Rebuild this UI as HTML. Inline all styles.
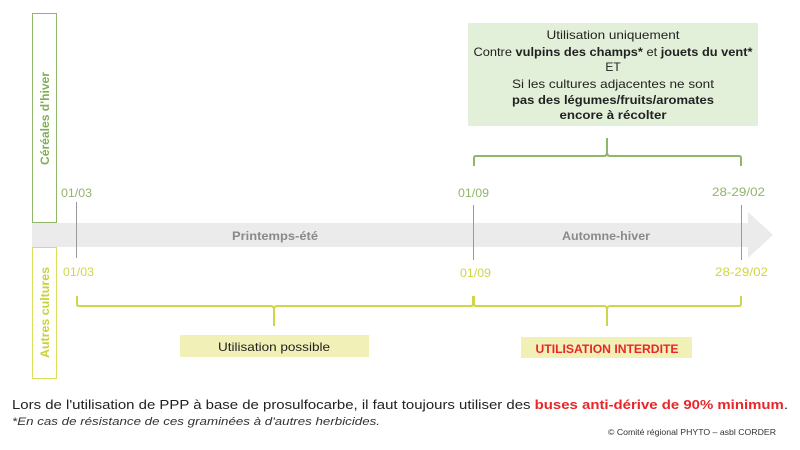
<!DOCTYPE html>
<html><head><meta charset="utf-8"><style>
html,body{margin:0;padding:0;background:#fff}
svg{display:block}
text{font-family:"Liberation Sans",sans-serif}
</style></head><body>
<svg width="800" height="450" viewBox="0 0 800 450" xmlns="http://www.w3.org/2000/svg">
<rect width="800" height="450" fill="#fff"/>
<!-- side boxes -->
<rect x="32.5" y="13.5" width="24" height="209" fill="#fff" stroke="#8fb66a" stroke-width="1"/>
<text transform="translate(49,165) rotate(-90)" font-size="12" font-weight="bold" fill="#7fae55" textLength="93" lengthAdjust="spacingAndGlyphs">Céréales d'hiver</text>
<rect x="32.5" y="247.5" width="24" height="131" fill="#fff" stroke="#d9df5a" stroke-width="1"/>
<text transform="translate(49,358) rotate(-90)" font-size="12" font-weight="bold" fill="#c9d235" textLength="91" lengthAdjust="spacingAndGlyphs">Autres cultures</text>
<!-- arrow band -->
<polygon points="32,223 748,223 748,212 773,235 748,258 748,247 32,247" fill="#ebebeb"/>
<text x="232" y="240" font-size="12" font-weight="bold" fill="#8a8a8a" textLength="86" lengthAdjust="spacingAndGlyphs">Printemps-été</text>
<text x="562" y="240" font-size="12" font-weight="bold" fill="#8a8a8a" textLength="88" lengthAdjust="spacingAndGlyphs">Automne-hiver</text>
<!-- vertical date lines -->
<line x1="76.5" y1="202" x2="76.5" y2="258" stroke="#999" stroke-width="1"/>
<line x1="473.5" y1="205" x2="473.5" y2="260" stroke="#999" stroke-width="1"/>
<line x1="741.5" y1="205" x2="741.5" y2="260" stroke="#999" stroke-width="1"/>
<!-- dates -->
<g font-size="12" fill="#8fb66a">
<text x="61" y="197" textLength="31" lengthAdjust="spacingAndGlyphs">01/03</text>
<text x="458" y="197" textLength="31" lengthAdjust="spacingAndGlyphs">01/09</text>
<text x="712" y="196" textLength="53" lengthAdjust="spacingAndGlyphs">28-29/02</text>
</g>
<g font-size="12" fill="#cfd64a">
<text x="63" y="276" textLength="31" lengthAdjust="spacingAndGlyphs">01/03</text>
<text x="460" y="277" textLength="31" lengthAdjust="spacingAndGlyphs">01/09</text>
<text x="715" y="276" textLength="53" lengthAdjust="spacingAndGlyphs">28-29/02</text>
</g>
<!-- green box -->
<rect x="468" y="23" width="290" height="103" fill="#e2efd9"/>
<g font-size="12" fill="#222" text-anchor="middle">
<text x="613" y="39" textLength="133" lengthAdjust="spacingAndGlyphs">Utilisation uniquement</text>
<text x="613" y="56" textLength="279" lengthAdjust="spacingAndGlyphs">Contre <tspan font-weight="bold">vulpins des champs*</tspan> et <tspan font-weight="bold">jouets du vent*</tspan></text>
<text x="613" y="71">ET</text>
<text x="613" y="88" textLength="202" lengthAdjust="spacingAndGlyphs">Si les cultures adjacentes ne sont</text>
<text x="613" y="104" font-weight="bold" textLength="202" lengthAdjust="spacingAndGlyphs">pas des légumes/fruits/aromates</text>
<text x="613" y="119" font-weight="bold" textLength="107" lengthAdjust="spacingAndGlyphs">encore à récolter</text>
</g>
<!-- top brace -->
<path d="M474,166 L474,158 Q474,156 476,156 L604,156 Q607,156 607,152 L607,138 M607,152 Q607,156 610,156 L739,156 Q741,156 741,158 L741,166" fill="none" stroke="#8fb66a" stroke-width="2"/>
<!-- bottom braces -->
<path d="M77,296 L77,304 Q77,306 79,306 L271,306 Q274,306 274,310 L274,326 M274,310 Q274,306 277,306 L471,306 Q473,306 473,304 L473,296" fill="none" stroke="#cfd64a" stroke-width="2"/>
<path d="M474,296 L474,304 Q474,306 476,306 L604,306 Q607,306 607,310 L607,326 M607,310 Q607,306 610,306 L739,306 Q741,306 741,304 L741,296" fill="none" stroke="#cfd64a" stroke-width="2"/>
<!-- bottom boxes -->
<rect x="180" y="335" width="189" height="22" fill="#f1f0b6"/>
<text x="274" y="351" font-size="12" fill="#222" text-anchor="middle" textLength="112" lengthAdjust="spacingAndGlyphs">Utilisation possible</text>
<rect x="521" y="337" width="171" height="21" fill="#f1f0b6"/>
<text x="607" y="353" font-size="12" font-weight="bold" fill="#e8262a" text-anchor="middle" textLength="143" lengthAdjust="spacingAndGlyphs">UTILISATION INTERDITE</text>
<!-- footer -->
<text x="12" y="409" font-size="13" fill="#222" textLength="776" lengthAdjust="spacingAndGlyphs">Lors de l'utilisation de PPP à base de prosulfocarbe, il faut toujours utiliser des <tspan fill="#e8262a" font-weight="bold">buses anti-dérive de 90% minimum</tspan>.</text>
<text x="12" y="425" font-size="11" font-style="italic" fill="#333" textLength="368" lengthAdjust="spacingAndGlyphs">*En cas de résistance de ces graminées à d'autres herbicides.</text>
<text x="608" y="435" font-size="8" fill="#333" textLength="168" lengthAdjust="spacingAndGlyphs">© Comité régional PHYTO – asbl CORDER</text>
</svg>
</body></html>
